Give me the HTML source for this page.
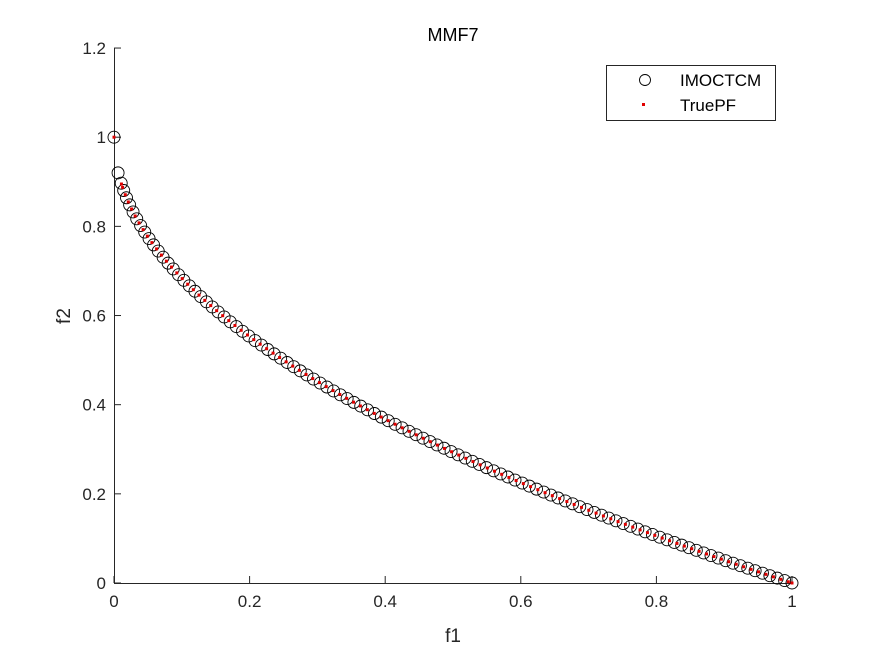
<!DOCTYPE html>
<html><head><style>
body{margin:0;background:#fff;}
svg{display:block;font-family:"Liberation Sans",Arial,sans-serif;}
</style></head><body>
<svg id="s" width="875" height="656" xmlns="http://www.w3.org/2000/svg">
<rect width="875" height="656" fill="#fff"/>
<text x="453" y="41" font-size="18" text-anchor="middle" fill="#000">MMF7</text>
<g stroke="#262626" stroke-width="1" fill="none">
<line x1="114.5" y1="48" x2="114.5" y2="583.5"/>
<line x1="114" y1="583.5" x2="792" y2="583.5"/>
</g>
<g id="ticks" stroke="#262626" stroke-width="1"></g>
<g id="lab" font-size="17" fill="#262626"></g>
<text x="453" y="642" font-size="19" text-anchor="middle" fill="#262626">f1</text>
<text x="70" y="316" font-size="19" text-anchor="middle" fill="#262626" transform="rotate(-90 70 316)">f2</text>
<g id="circ" fill="none" stroke="#000" stroke-width="0.9"></g>
<g id="dots" fill="#e00000"></g>
<rect x="606.5" y="65.5" width="169" height="55" fill="#fff" stroke="#262626" stroke-width="1"/>
<circle cx="645" cy="80" r="5.5" fill="none" stroke="#000" stroke-width="0.9"/>
<rect x="642" y="103" width="3" height="3" fill="#e00000"/>
<text x="680" y="86" font-size="17" fill="#000">IMOCTCM</text>
<text x="680" y="111" font-size="17" fill="#000">TruePF</text>
</svg>
<script>
(function(){
const NS="http://www.w3.org/2000/svg";
const X=f=>114+f*678, Y=v=>583-v*445.8;
function el(g,t,a,txt){const e=document.createElementNS(NS,t);for(const k in a)e.setAttribute(k,a[k]);if(txt!=null)e.textContent=txt;document.getElementById(g).appendChild(e);}
for(let i=0;i<=5;i++){const x=X(i*0.2);el("ticks","line",{x1:x,y1:583,x2:x,y2:576});
el("lab","text",{x:x,y:607,"text-anchor":"middle"},i==0?"0":i==5?"1":(i*0.2).toFixed(1));}
for(let i=0;i<=6;i++){const y=Y(i*0.2);el("ticks","line",{x1:114,y1:y,x2:121,y2:y});
el("lab","text",{x:106,y:y+6,"text-anchor":"end"},i==0?"0":i==5?"1":(i*0.2).toFixed(1));}
const M=20000;let L=0;let px=X(0),py=Y(1);const cum=[[0,px,py]];
for(let i=1;i<=M;i++){const f=i/M;const x=X(f),y=Y(1-Math.sqrt(f));L+=Math.hypot(x-px,y-py);cum.push([L,x,y]);px=x;py=y;}
function sample(n,off,fn){let j=0;for(let k=0;k<n;k++){const t=(k+off)/(n-1+(off?1:0))*L;while(j<cum.length-1&&cum[j][0]<t)j++;fn(cum[j][1],cum[j][2]);}}
el("circ","circle",{cx:X(0),cy:Y(1),r:6});
el("circ","circle",{cx:X(0.006),cy:Y(0.92),r:6});
sample(110,0,(x,y)=>{if(y>Y(0.9))el("circ","circle",{cx:x,cy:y,r:6});});
sample(108,0.5,(x,y)=>{if(y>Y(0.9))el("dots","rect",{x:x-1.5,y:y-1.5,width:3,height:3});});
el("dots","rect",{x:X(0)-1.5,y:Y(1)-1.5,width:3,height:3});
el("dots","rect",{x:X(0.011)-1.5,y:Y(0.895)-1.5,width:3,height:3});
el("dots","rect",{x:X(1)-1.5,y:Y(0)-1.5,width:3,height:3});
})();
</script>
</body></html>
